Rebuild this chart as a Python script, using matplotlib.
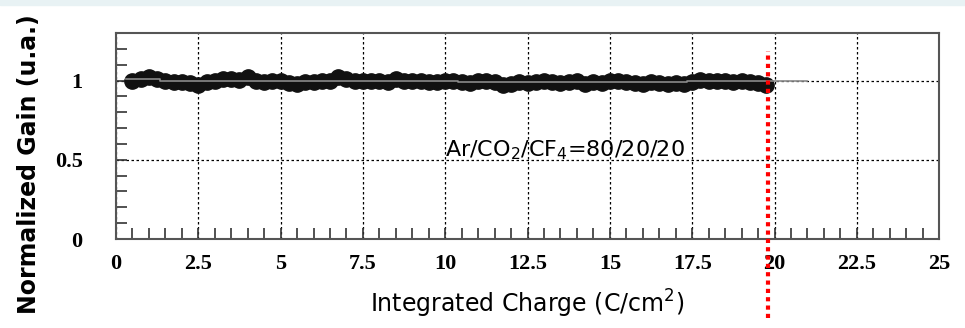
import numpy as np
import matplotlib.pyplot as plt
from matplotlib.patches import Rectangle

# Measured points (integrated charge in C/cm2, normalized gain)
charge = [0.5, 0.75, 1.0, 1.25, 1.5, 1.75, 2.0, 2.25, 2.5, 2.75,
          3.0, 3.25, 3.5, 3.75, 4.0, 4.25, 4.5, 4.75, 5.0, 5.25,
          5.5, 5.75, 6.0, 6.25, 6.5, 6.75, 7.0, 7.25, 7.5, 7.75,
          8.0, 8.25, 8.5, 8.75, 9.0, 9.25, 9.5, 9.75, 10.0, 10.25,
          10.5, 10.75, 11.0, 11.25, 11.5, 11.75, 12.0, 12.25, 12.5, 12.75,
          13.0, 13.25, 13.5, 13.75, 14.0, 14.25, 14.5, 14.75, 15.0, 15.25,
          15.5, 15.75, 16.0, 16.25, 16.5, 16.75, 17.0, 17.25, 17.5, 17.75,
          18.0, 18.25, 18.5, 18.75, 19.0, 19.25, 19.5, 19.75]
gain = [1.00, 1.01, 1.02, 1.01, 1.00, 0.99, 0.99, 0.985, 0.975, 0.99,
        1.00, 1.01, 1.01, 1.005, 1.02, 1.00, 0.99, 0.995, 1.00, 0.985,
        0.98, 0.99, 0.99, 1.00, 1.00, 1.025, 1.01, 1.00, 0.995, 1.00,
        1.00, 0.99, 1.01, 1.00, 0.995, 1.00, 0.99, 0.99, 0.995, 1.00,
        0.99, 0.985, 1.00, 0.995, 0.99, 0.975, 0.98, 0.99, 0.985, 0.99,
        1.00, 0.99, 0.985, 0.99, 0.995, 0.98, 0.99, 0.985, 0.995, 1.00,
        0.99, 0.985, 0.98, 0.99, 0.985, 0.98, 0.985, 0.98, 0.99, 1.005,
        1.00, 0.995, 0.995, 0.99, 0.995, 0.99, 0.985, 0.97]

# Grey fit line (step levels)
fit_x = [0.3, 1.35, 10.4, 17.35, 21.0]
fit_y = [1.008, 0.998, 0.99, 0.995, 0.995]

cut_x = 19.8  # red marker line
x_ticks = [0, 2.5, 5, 7.5, 10, 12.5, 15, 17.5, 20, 22.5, 25]
x_labels = ['0', '2.5', '5', '7.5', '10', '12.5', '15', '17.5', '20', '22.5', '25']
y_ticks = [0, 0.5, 1]
y_labels = ['0', '0.5', '1']

fig = plt.figure(figsize=(9.65, 3.28), dpi=100)
fig.patches.append(Rectangle((0, 0.984), 1, 0.016, transform=fig.transFigure,
                             color='#e8f2f4', zorder=0))
ax = fig.add_axes([0.1202, 0.2713, 0.853, 0.628])

ax.plot(charge, gain, 'o', color='#111111', markersize=11, zorder=3)
ax.step(fit_x, fit_y, where='post', color='#8a8a8a', lw=1.2, zorder=4)

ax.set_xlim(0, 25)
ax.set_ylim(0, 1.3)
ax.set_xticks(x_ticks)
ax.set_xticklabels(x_labels)
ax.set_yticks(y_ticks)
ax.set_yticklabels(y_labels)
ax.set_xticks(np.arange(0, 25.01, 0.5), minor=True)
ax.set_yticks(np.arange(0, 1.301, 0.1), minor=True)
ax.tick_params(which='both', direction='in', length=8, width=1.2, color='#333333',
               top=False, right=False)
for lab in ax.get_xticklabels() + ax.get_yticklabels():
    lab.set_fontfamily('Liberation Serif')
    lab.set_fontweight('bold')
    lab.set_fontsize(16)
ax.tick_params(axis='x', pad=11)
ax.tick_params(axis='y', pad=24)

ax.grid(True, which='major', color='black', linestyle=(0, (2, 2)), linewidth=0.9)
ax.set_axisbelow(True)
for s in ax.spines.values():
    s.set_color('#555555')
    s.set_linewidth(1.5)

ax.text(10.0, 0.56, 'Ar/CO$_2$/CF$_4$=80/20/20', fontsize=16,
        fontfamily='DejaVu Sans', va='center', ha='left')

ax.axvline(cut_x, ymin=-0.382, ymax=0.914, color='red', lw=3,
           linestyle=(0, (1, 1)), clip_on=False, zorder=5)

ax.set_xlabel('Integrated Charge (C/cm$^2$)', fontsize=17, fontfamily='DejaVu Sans',
              labelpad=10)
fig.text(0.03, 0.5, 'Normalized Gain (u.a.)', rotation=90, fontsize=17,
         fontweight='bold', fontfamily='DejaVu Sans', va='center', ha='center')

fig.savefig('out.png', dpi=100)
